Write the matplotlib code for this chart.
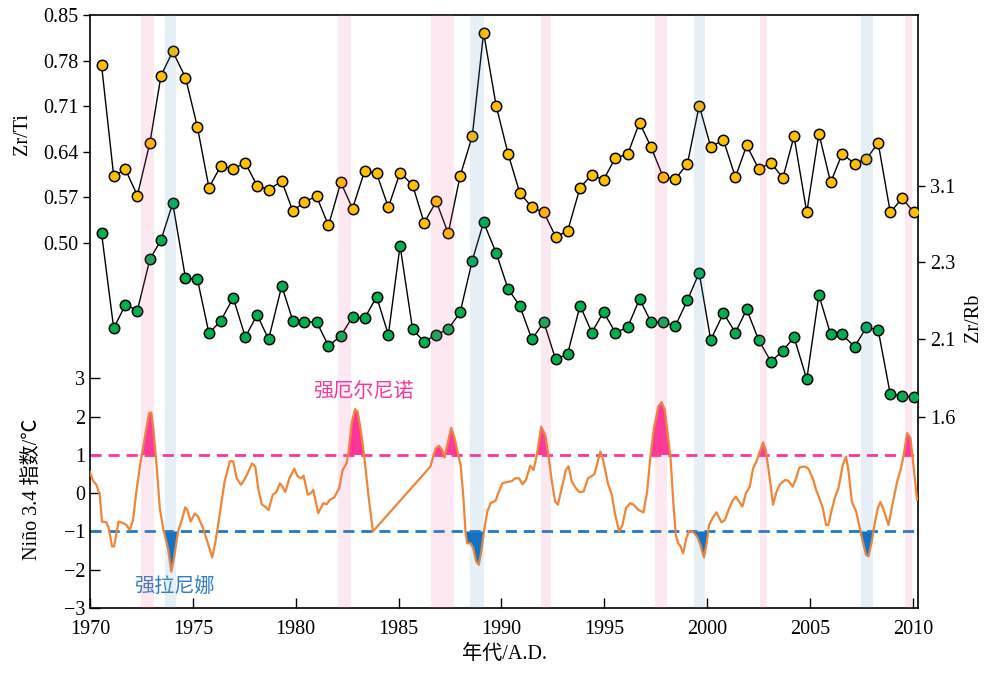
import numpy as np
import matplotlib
matplotlib.use('Agg')
from matplotlib import pyplot as plt

plt.rcParams['font.family'] = ['Liberation Serif', 'Noto Sans CJK SC']
plt.rcParams['font.size'] = 14.5

# sample years shared by the two geochemical series
years = [1970.56, 1971.15, 1971.72, 1972.3, 1972.91, 1973.45, 1974.02, 1974.64, 1975.22, 1975.78,
         1976.35, 1976.96, 1977.55, 1978.12, 1978.68, 1979.32, 1979.86, 1980.41, 1981.01, 1981.59,
         1982.19, 1982.76, 1983.35, 1983.93, 1984.5, 1985.07, 1985.68, 1986.24, 1986.83, 1987.41,
         1987.99, 1988.58, 1989.13, 1989.74, 1990.32, 1990.89, 1991.48, 1992.06, 1992.63, 1993.21,
         1993.82, 1994.39, 1994.96, 1995.54, 1996.13, 1996.71,
         1997.26, 1997.85, 1998.45, 1999.04, 1999.61, 2000.17, 2000.79, 2001.37, 2001.92, 2002.5,
         2003.1, 2003.68, 2004.22, 2004.84, 2005.43, 2006.0, 2006.56, 2007.16, 2007.74, 2008.31,
         2008.9, 2009.48, 2010.04]

zr_ti = [0.773, 0.603, 0.613, 0.573, 0.654, 0.757, 0.794, 0.754, 0.678, 0.585,
         0.618, 0.614, 0.623, 0.588, 0.582, 0.595, 0.549, 0.563, 0.572, 0.527,
         0.593, 0.553, 0.611, 0.607, 0.555, 0.608, 0.589, 0.531, 0.564, 0.515,
         0.603, 0.664, 0.823, 0.711, 0.637, 0.577, 0.555, 0.547, 0.510, 0.518,
         0.585, 0.605, 0.597, 0.631, 0.636, 0.685,
         0.648, 0.602, 0.598, 0.622, 0.711, 0.648, 0.658, 0.601, 0.650, 0.614,
         0.623, 0.600, 0.664, 0.547, 0.668, 0.593, 0.637, 0.622, 0.629, 0.654,
         0.547, 0.569, 0.547]

zr_rb = [2.60, 2.127, 2.188, 2.173, 2.325, 2.529, 2.917, 2.257, 2.254, 2.114,
         2.146, 2.206, 2.104, 2.162, 2.096, 2.237, 2.146, 2.143, 2.144, 2.054,
         2.107, 2.157, 2.153, 2.209, 2.110, 2.469, 2.124, 2.081, 2.110, 2.125,
         2.168, 2.311, 2.716, 2.392, 2.229, 2.185, 2.096, 2.143, 1.969, 2.001,
         2.186, 2.116, 2.169, 2.116, 2.129, 2.203,
         2.144, 2.142, 2.133, 2.200, 2.271, 2.092, 2.166, 2.116, 2.176, 2.092,
         1.954, 2.024, 2.104, 1.842, 2.213, 2.111, 2.111, 2.049, 2.129, 2.123,
         1.746, 1.737, 1.727]

nino_year = [1970.0, 1970.15, 1970.31, 1970.47, 1970.58, 1970.79, 1970.91, 1971.07, 1971.17, 1971.39,
             1971.6, 1971.77, 1971.93, 1972.09, 1972.25, 1972.46, 1972.66, 1972.87, 1972.98, 1973.09,
             1973.22, 1973.39, 1973.55, 1973.79, 1973.95, 1974.08, 1974.28, 1974.44, 1974.63, 1974.73,
             1974.89, 1975.09, 1975.25, 1975.49, 1975.7, 1975.94, 1976.1, 1976.3, 1976.54, 1976.8,
             1976.96, 1977.13, 1977.34, 1977.5, 1977.66, 1977.87, 1978.03, 1978.2, 1978.36, 1978.52,
             1978.68, 1978.88, 1979.07, 1979.23, 1979.36, 1979.49, 1979.69, 1979.93, 1980.09, 1980.25,
             1980.38, 1980.58, 1980.74, 1980.85, 1981.09, 1981.34, 1981.5, 1981.66, 1981.87, 1982.11,
             1982.28, 1982.47, 1982.57, 1982.73, 1982.88, 1983.01, 1983.17, 1983.33, 1983.52, 1983.75,
             1986.55, 1986.68, 1986.8, 1986.96, 1987.12, 1987.23, 1987.36, 1987.56, 1987.72, 1987.88,
             1988.01, 1988.14, 1988.25, 1988.33, 1988.5, 1988.63, 1988.77, 1988.9, 1989.02, 1989.15,
             1989.31, 1989.47, 1989.71, 1989.87, 1990.04, 1990.26, 1990.51, 1990.67, 1990.86, 1991.02,
             1991.19, 1991.4, 1991.56, 1991.72, 1991.93, 1992.13, 1992.29, 1992.45, 1992.61, 1992.74,
             1992.93, 1993.13, 1993.26, 1993.42, 1993.62, 1993.78, 1993.99, 1994.2, 1994.36, 1994.52,
             1994.72, 1994.81, 1994.96, 1995.17, 1995.36, 1995.53, 1995.72, 1995.88, 1996.05, 1996.26,
             1996.42, 1996.66, 1996.9, 1997.08, 1997.24, 1997.41, 1997.62, 1997.78, 1997.94, 1998.1,
             1998.22, 1998.35, 1998.47, 1998.59, 1998.7, 1998.83, 1998.99, 1999.12, 1999.32, 1999.51,
             1999.67, 1999.84, 1999.96, 2000.09, 2000.26, 2000.45, 2000.69, 2000.86, 2001.07, 2001.23,
             2001.39, 2001.55, 2001.71, 2001.88, 2002.07, 2002.23, 2002.39, 2002.59, 2002.72, 2002.85,
             2003.04, 2003.2, 2003.37, 2003.53, 2003.79, 2003.95, 2004.16, 2004.32, 2004.48, 2004.73,
             2004.92, 2005.13, 2005.29, 2005.45, 2005.62, 2005.78, 2005.89, 2006.05, 2006.22, 2006.38,
             2006.59, 2006.75, 2006.87, 2007.03, 2007.24, 2007.4, 2007.56, 2007.72, 2007.84, 2008.0,
             2008.16, 2008.29, 2008.42, 2008.58, 2008.81, 2008.97, 2009.23, 2009.42, 2009.55, 2009.72,
             2009.88, 2010.04, 2010.2]

nino_index = [0.55, 0.32, 0.22, -0.04, -0.74, -0.76, -0.91, -1.39, -1.39, -0.74,
              -0.78, -0.83, -0.96, -0.70, 0.04, 0.83, 1.44, 2.09, 2.11, 1.61,
              0.83, -0.39, -0.91, -1.44, -2.05, -1.70, -1.0, -0.74, -0.37, -0.44,
              -0.74, -0.53, -0.61, -0.91, -1.26, -1.68, -1.26, -0.57, 0.30, 0.84,
              0.83, 0.39, 0.22, 0.35, 0.52, 0.78, 0.70, 0.04, -0.30, -0.35,
              -0.44, -0.04, 0.04, 0.26, 0.17, 0.03, 0.39, 0.64, 0.44, 0.39,
              0.46, -0.04, 0.0, 0.09, -0.52, -0.26, -0.29, -0.17, -0.11, 0.13,
              0.61, 0.78, 1.09, 1.87, 2.20, 2.13, 1.61, 0.96, 0.0, -1.0,
              0.70, 0.96, 1.17, 1.24, 1.13, 0.93, 1.26, 1.71, 1.44, 1.04,
              0.74, -0.04, -1.0, -1.31, -1.31, -1.44, -1.78, -1.87, -1.52, -1.0,
              -0.48, -0.26, -0.20, 0.04, 0.26, 0.29, 0.32, 0.39, 0.39, 0.23,
              0.35, 0.72, 0.61, 1.0, 1.74, 1.52, 0.96, 0.30, -0.22, -0.30,
              0.13, 0.61, 0.70, 0.30, 0.13, 0.03, 0.04, 0.39, 0.44, 0.50,
              0.91, 1.09, 0.83, 0.26, -0.04, -0.57, -1.0, -0.83, -0.39, -0.26,
              -0.30, -0.44, -0.50, 0.04, 0.96, 1.70, 2.26, 2.38, 2.18, 1.44,
              0.91, -0.22, -1.09, -1.31, -1.39, -1.57, -1.17, -0.98, -1.02, -1.13,
              -1.35, -1.68, -1.35, -0.83, -0.65, -0.50, -0.76, -0.70, -0.39, -0.20,
              -0.09, -0.22, -0.35, 0.0, 0.17, 0.65, 0.83, 1.13, 1.33, 1.11,
              0.39, -0.30, 0.04, 0.23, 0.35, 0.32, 0.17, 0.39, 0.67, 0.70,
              0.64, 0.39, 0.09, -0.13, -0.39, -0.83, -0.83, -0.44, -0.09, 0.13,
              0.74, 0.96, 0.57, -0.22, -0.48, -0.87, -1.26, -1.61, -1.65, -1.26,
              -0.74, -0.39, -0.23, -0.44, -0.83, -0.39, 0.30, 0.65, 1.0, 1.57,
              1.44, 0.65, -0.17]

# shaded event bands
el_nino_bands = [(1972.5, 1973.1), (1982.03, 1982.7), (1986.57, 1987.67), (1991.93, 1992.4),
                 (1997.45, 1998.05), (2002.59, 2002.9), (2009.63, 2009.94)]
la_nina_bands = [(1973.64, 1974.18), (1988.46, 1989.14), (1999.35, 1999.88), (2007.5, 2008.05)]
# periods whose peaks are filled as strong events
el_nino_fill = [(1972.3, 1973.3), (1982.5, 1983.3), (1986.6, 1988.0), (1991.7, 1992.3),
                (1997.2, 1998.3), (2002.5, 2003.0), (2009.5, 2010.1)]
la_nina_fill = [(1973.5, 1974.4), (1988.2, 1989.2), (1999.1, 2000.1), (2007.4, 2008.2)]

zr_ti_ticks = [0.50, 0.57, 0.64, 0.71, 0.78, 0.85]
zr_rb_ticks = [1.6, 2.1, 2.3, 3.1]
nino_ticks = [-3, -2, -1, 0, 1, 2, 3]
year_ticks = [1970, 1975, 1980, 1985, 1990, 1995, 2000, 2005, 2010]

# right axis labels are not evenly spaced in value -> piecewise linear scale
rb_knots = np.array([-50.0, 1.6, 2.1, 2.3, 3.1, 50.0])
rb_pos = np.array([-105.26, 0.0, 1.02, 2.02, 3.0, 60.45])


def rb_forward(v):
    return np.interp(np.asarray(v, dtype=float), rb_knots, rb_pos)


def rb_inverse(p):
    return np.interp(np.asarray(p, dtype=float), rb_pos, rb_knots)


def in_periods(t, periods):
    m = np.zeros(len(t), dtype=bool)
    for a, b in periods:
        m |= (t >= a) & (t <= b)
    return m


fig = plt.figure(figsize=(9.84, 6.73), dpi=100)
ax = fig.add_axes([0.0915, 0.0966, 0.8415, 0.8811])

# Nino 3.4
t = np.array(nino_year)
v = np.array(nino_index)
ax.plot(t, v, color='#f08537', lw=1.6, zorder=3)
ax.fill_between(t, v, 1, where=(v >= 1) & in_periods(t, el_nino_fill), interpolate=True,
                color='#ff3399', lw=0, zorder=2)
ax.fill_between(t, v, -1, where=(v <= -1) & in_periods(t, la_nina_fill), interpolate=True,
                color='#0a6fc2', lw=0, zorder=2)
ax.axhline(1, color='#ff3399', lw=2, ls=(0, (4, 2.5)), zorder=2.5)
ax.axhline(-1, color='#1f78c8', lw=2, ls=(0, (4, 2.5)), zorder=2.5)
ax.set_xlim(1970, 2010.25)
ax.set_ylim(-3, 12.5)
ax.set_yticks(nino_ticks)
ax.set_xticks(year_ticks)
ax.tick_params(axis='both', direction='in', length=7, width=1)
ax.tick_params(axis='x', pad=9)
ax.set_ylabel('Niño 3.4 指数/℃')
ax.yaxis.set_label_coords(-0.058, 0.2)
ax.set_xlabel('年代/A.D.', labelpad=5)
for s in ax.spines.values():
    s.set_linewidth(1.2)

ax.text(1983.3, 2.65, '强厄尔尼诺', color='#ff3399', ha='center', va='center', fontsize=14.5,
        family=['Noto Sans CJK SC'])
ax.text(1974.1, -2.45, '强拉尼娜', color='#2f7dc7', ha='center', va='center', fontsize=14.5,
        family=['Noto Sans CJK SC'])

# Zr/Ti on the left
ax2 = ax.twinx()
ax2.yaxis.tick_left()
ax2.yaxis.set_label_position('left')
ax2.plot(years, zr_ti, '-', color='black', lw=1, marker='o', ms=7.5, mfc='#ffc000',
         mec='black', mew=1.1, zorder=3)
ax2.set_ylim(-0.06, 0.85)
ax2.set_yticks(zr_ti_ticks)
ax2.set_yticklabels(['%.2f' % x for x in zr_ti_ticks])
ax2.tick_params(axis='y', direction='out', length=5, width=1)
ax2.set_ylabel('Zr/Ti')
ax2.yaxis.set_label_coords(-0.07, 0.8)
for s in ax2.spines.values():
    s.set_visible(False)

# Zr/Rb on the right
ax3 = ax.twinx()
ax3.set_yscale('function', functions=(rb_forward, rb_inverse))
ax3.plot(years, zr_rb, '-', color='black', lw=1, marker='o', ms=7.5, mfc='#00b050',
         mec='black', mew=1.1, zorder=3)
ax3.set_ylim(0.388, 4.91)
ax3.set_yticks(zr_rb_ticks)
ax3.set_yticklabels([str(x) for x in zr_rb_ticks])
ax3.yaxis.set_minor_locator(matplotlib.ticker.NullLocator())
ax3.tick_params(axis='y', direction='out', length=5, width=1)
ax3.set_ylabel('Zr/Rb', rotation=90)
ax3.yaxis.set_label_coords(1.055, 0.49)
for s in ax3.spines.values():
    s.set_visible(False)
ax3.set_xlim(1970, 2010.25)

# event bands drawn on top with transparency (tints the markers)
for a, b in el_nino_bands:
    ax3.axvspan(a, b, color='#f1669f', alpha=0.15, lw=0, zorder=5)
for a, b in la_nina_bands:
    ax3.axvspan(a, b, color='#588ec9', alpha=0.15, lw=0, zorder=5)

plt.savefig('out.png', dpi=100)
